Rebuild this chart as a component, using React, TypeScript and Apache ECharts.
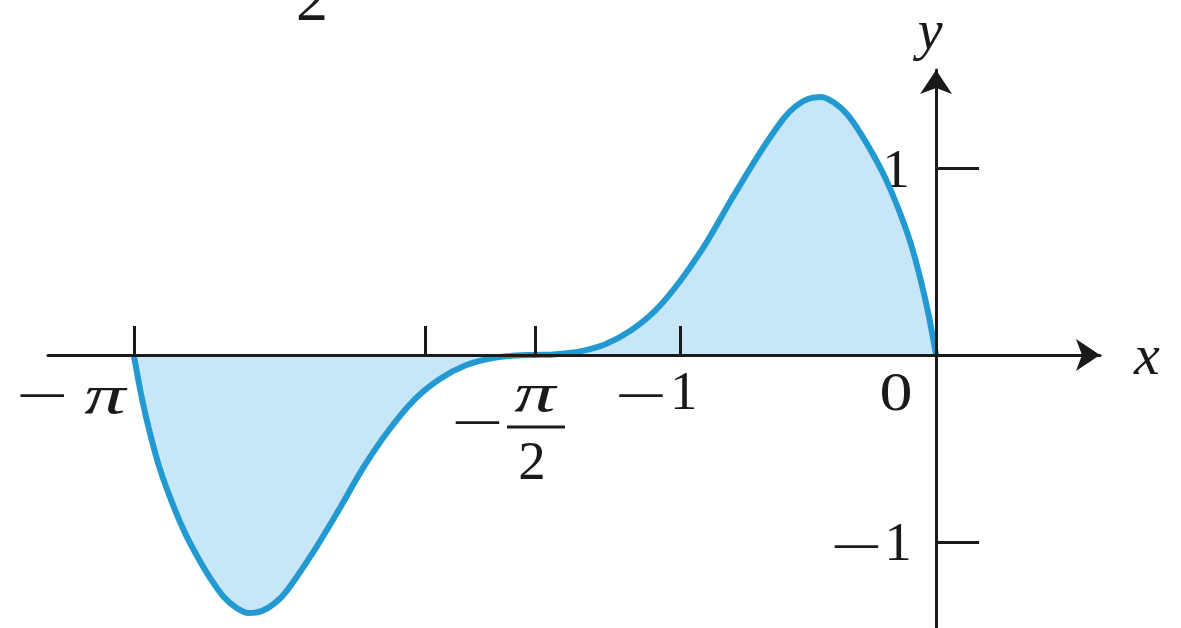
import React, { useEffect, useRef } from 'react';
import * as echarts from 'echarts';

// Curve samples (x in radians, y value), read along the plotted function on [-π, 0]
const curveX = [
  -3.142, -3.112, -3.082, -3.042, -2.992, -2.942, -2.892, -2.842, -2.792, -2.742,
  -2.692, -2.642, -2.592, -2.542, -2.442, -2.342, -2.242, -2.142, -2.042, -1.942,
  -1.842, -1.742, -1.642, -1.571,
  -1.5, -1.4, -1.3, -1.2, -1.1, -1.0, -0.9, -0.8, -0.7, -0.6,
  -0.55, -0.5, -0.45, -0.4, -0.35, -0.3, -0.25, -0.2, -0.15, -0.1,
  -0.06, -0.03, 0,
];
const curveY = [
  0, -0.22, -0.4, -0.6, -0.79, -0.95, -1.08, -1.195, -1.29, -1.35,
  -1.38, -1.37, -1.33, -1.26, -1.06, -0.835, -0.6, -0.4, -0.237, -0.127,
  -0.055, -0.018, -0.003, 0,
  0.003, 0.018, 0.055, 0.127, 0.237, 0.4, 0.6, 0.835, 1.06, 1.26,
  1.33, 1.37, 1.38, 1.35, 1.29, 1.195, 1.08, 0.95, 0.79, 0.6,
  0.4, 0.22, 0,
];

// Axis ticks and their labels
const xTickValues = [-Math.PI, -2, -Math.PI / 2, -1];
const yTickValues = [-1, 1];
const xLabelValues = [-Math.PI, -1, 0];
const xLabelBodies = ['π', '1', '0'];
const xLabelNegative = [true, true, false];
const yLabelValues = [1, -1];
const yLabelBodies = ['1', '1'];
const yLabelNegative = [false, true];
const fractionValue = -Math.PI / 2;
const fractionTop = 'π';
const fractionBottom = '2';

// Axis extents
const xMin = -3.478;
const xMax = 0.642;
const yMin = -1.46;
const yMax = 1.524;

const FONT = '"Liberation Serif", "Times New Roman", serif';
const INK = '#1a1a1a';
const LINE = '#2299d0';
const FILL = '#c7e7f8';
const SIZE = 55;

// Label placement (pixel offsets from each tick position)
const xLabelLayout = [
  { minusDx: -92, bodyDx: -29, bodyDy: 40, italic: true, stretch: 1.5 },
  { minusDx: -40, bodyDx: 3, bodyDy: 36, italic: false, stretch: 1 },
  { minusDx: 0, bodyDx: -40, bodyDy: 36, italic: false, stretch: 1.2 },
];
const MINUS_DY = 41;
const yLabelLayout = [
  { minusDx: 0, bodyDx: -40, bodyDy: 1 },
  { minusDx: -80, bodyDx: -38, bodyDy: 0 },
];

export default function App() {
  const ref = useRef<HTMLDivElement>(null);

  useEffect(() => {
    if (!ref.current) return;
    const chart = echarts.init(ref.current, undefined, { renderer: 'svg' });

    const axisLineStyle = { color: INK, width: 3 };

    chart.setOption({
      animation: false,
      grid: { left: 48, right: 81, top: 70, bottom: 0 },
      xAxis: {
        type: 'value',
        min: xMin,
        max: xMax,
        z: 5,
        name: 'x',
        nameLocation: 'end',
        nameGap: 34,
        nameTextStyle: {
          fontFamily: FONT,
          fontStyle: 'italic',
          fontSize: 58,
          color: INK,
          padding: [0, 0, 10, 0],
        },
        axisLine: {
          onZero: true,
          lineStyle: axisLineStyle,
          symbol: ['none', 'arrow'],
          symbolSize: [24, 24],
        },
        axisTick: {
          show: true,
          inside: true,
          length: 29,
          customValues: xTickValues,
          lineStyle: { color: INK, width: 3 },
        },
        axisLabel: { show: false },
        splitLine: { show: false },
      },
      yAxis: {
        type: 'value',
        min: yMin,
        max: yMax,
        z: 5,
        name: 'y',
        nameLocation: 'end',
        nameGap: 12,
        nameTextStyle: {
          fontFamily: FONT,
          fontStyle: 'italic',
          fontSize: 56,
          color: INK,
          align: 'center',
          padding: [0, 12, 0, 0],
        },
        axisLine: {
          onZero: true,
          lineStyle: axisLineStyle,
          symbol: ['none', 'arrow'],
          symbolSize: [24, 24],
        },
        axisTick: {
          show: true,
          inside: true,
          length: 43,
          customValues: yTickValues,
          lineStyle: { color: INK, width: 3 },
        },
        axisLabel: { show: false },
        splitLine: { show: false },
      },
      series: [
        {
          type: 'line',
          data: curveX.map((x, i) => [x, curveY[i]]),
          showSymbol: false,
          smooth: 0.3,
          z: 2,
          lineStyle: { color: LINE, width: 6 },
          areaStyle: { color: FILL, opacity: 1, origin: 0 },
        },
      ],
    });

    const px = (x: number, y: number) =>
      chart.convertToPixel({ gridIndex: 0 }, [x, y]) as number[];

    const glyph = (text: string, x: number, y: number, italic = false, stretch = 1) => ({
      type: 'text',
      x,
      y,
      scaleX: stretch,
      style: {
        text,
        fill: INK,
        font: `${italic ? 'italic ' : ''}${SIZE}px ${FONT}`,
        align: 'center',
        verticalAlign: 'middle',
      },
    });
    // Long typographic minus sign
    const minus = (x: number, y: number) => glyph('−', x, y, false, 1.7);

    const graphics: any[] = [];

    xLabelValues.forEach((v, i) => {
      const [tx, ty] = px(v, 0);
      const lay = xLabelLayout[i];
      if (xLabelNegative[i]) graphics.push(minus(tx + lay.minusDx, ty + MINUS_DY));
      graphics.push(
        glyph(xLabelBodies[i], tx + lay.bodyDx, ty + lay.bodyDy, lay.italic, lay.stretch),
      );
    });

    // −π/2 written as a stacked fraction
    const [hx, hy] = px(fractionValue, 0);
    graphics.push(
      minus(hx - 58, hy + 68),
      glyph(fractionTop, hx, hy + 38, true, 1.5),
      {
        type: 'line',
        shape: { x1: hx - 28, y1: hy + 72, x2: hx + 30, y2: hy + 72 },
        style: { stroke: INK, lineWidth: 3 },
      },
      glyph(fractionBottom, hx - 3, hy + 106),
    );

    yLabelValues.forEach((v, i) => {
      const [tx, ty] = px(0, v);
      const lay = yLabelLayout[i];
      if (yLabelNegative[i]) graphics.push(minus(tx + lay.minusDx, ty + lay.bodyDy + 5));
      graphics.push(glyph(yLabelBodies[i], tx + lay.bodyDx, ty + lay.bodyDy));
    });

    // Lower part of the caption line above the figure
    graphics.push({
      type: 'text',
      x: 312,
      y: 30,
      style: {
        text: '2',
        fill: INK,
        font: `64px ${FONT}`,
        align: 'center',
        verticalAlign: 'bottom',
      },
    });

    chart.setOption({ graphic: graphics });

    return () => chart.dispose();
  }, []);

  return (
    <div
      ref={ref}
      style={{ position: 'fixed', left: 0, top: 0, width: 1181, height: 628, background: '#fff' }}
    />
  );
}
